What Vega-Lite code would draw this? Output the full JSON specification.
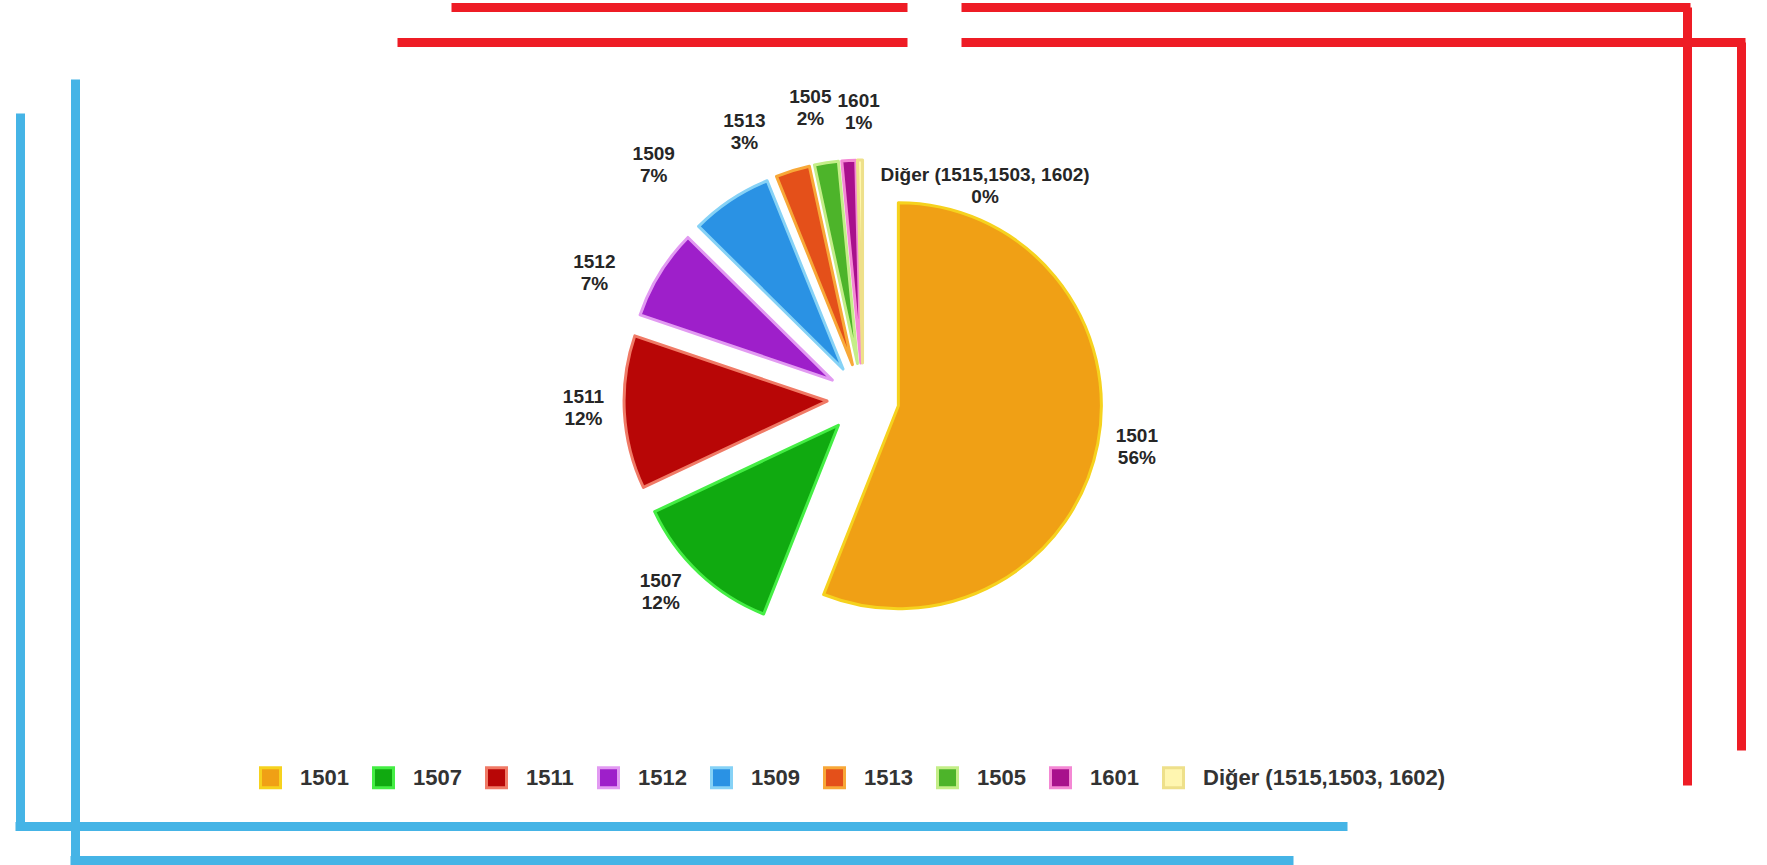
{
  "$schema": "https://vega.github.io/schema/vega-lite/v6.json",
  "width": 1726,
  "height": 798,
  "autosize": {"type": "none"},
  "padding": {"left": 0, "top": 0, "right": 41, "bottom": 67},
  "background": "white",
  "config": {"view": {"stroke": null}, "font": "Liberation Sans"},
  "data": {
    "values": [
      {"kod": "1501", "pay": 0.560, "sira": 1},
      {"kod": "1507", "pay": 0.120, "sira": 2},
      {"kod": "1511", "pay": 0.122, "sira": 3},
      {"kod": "1512", "pay": 0.072, "sira": 4},
      {"kod": "1509", "pay": 0.065, "sira": 5},
      {"kod": "1513", "pay": 0.027, "sira": 6},
      {"kod": "1505", "pay": 0.019, "sira": 7},
      {"kod": "1601", "pay": 0.011, "sira": 8},
      {"kod": "Diğer (1515,1503, 1602)", "pay": 0.004, "sira": 9}
    ]
  },
  "layer": [
    {
      "mark": {"type": "point", "opacity": 0},
      "encoding": {
        "x": {"field": "pay", "type": "quantitative", "scale": {"range": [451, 907], "nice": false},
          "axis": {"orient": "top", "offset": -7, "domainColor": "#EE1C25", "domainWidth": 9, "ticks": false, "labels": false, "grid": false, "title": null}}
      }
    },
    {
      "mark": {"type": "point", "opacity": 0},
      "encoding": {
        "x": {"field": "pay", "type": "quantitative", "scale": {"range": [961, 1690], "nice": false},
          "axis": {"orient": "top", "offset": -7, "domainColor": "#EE1C25", "domainWidth": 9, "ticks": false, "labels": false, "grid": false, "title": null}},
        "y": {"field": "pay", "type": "quantitative", "scale": {"range": [785, 7], "nice": false},
          "axis": {"orient": "right", "offset": -39, "domainColor": "#EE1C25", "domainWidth": 9, "ticks": false, "labels": false, "grid": false, "title": null}}
      }
    },
    {
      "mark": {"type": "point", "opacity": 0},
      "encoding": {
        "x": {"field": "pay", "type": "quantitative", "scale": {"range": [397, 907], "nice": false},
          "axis": {"orient": "top", "offset": -42, "domainColor": "#EE1C25", "domainWidth": 9, "ticks": false, "labels": false, "grid": false, "title": null}}
      }
    },
    {
      "mark": {"type": "point", "opacity": 0},
      "encoding": {
        "x": {"field": "pay", "type": "quantitative", "scale": {"range": [961, 1745], "nice": false},
          "axis": {"orient": "top", "offset": -42, "domainColor": "#EE1C25", "domainWidth": 9, "ticks": false, "labels": false, "grid": false, "title": null}},
        "y": {"field": "pay", "type": "quantitative", "scale": {"range": [750, 42], "nice": false},
          "axis": {"orient": "right", "offset": 15, "domainColor": "#EE1C25", "domainWidth": 9, "ticks": false, "labels": false, "grid": false, "title": null}}
      }
    },
    {
      "mark": {"type": "point", "opacity": 0},
      "encoding": {
        "x": {"field": "pay", "type": "quantitative", "scale": {"range": [15, 1347], "nice": false},
          "axis": {"orient": "bottom", "offset": 28, "domainColor": "#45B4E6", "domainWidth": 9, "ticks": false, "labels": false, "grid": false, "title": null}},
        "y": {"field": "pay", "type": "quantitative", "scale": {"range": [826, 113], "nice": false},
          "axis": {"orient": "left", "offset": -20, "domainColor": "#45B4E6", "domainWidth": 9, "ticks": false, "labels": false, "grid": false, "title": null}}
      }
    },
    {
      "mark": {"type": "point", "opacity": 0},
      "encoding": {
        "x": {"field": "pay", "type": "quantitative", "scale": {"range": [70, 1293], "nice": false},
          "axis": {"orient": "bottom", "offset": 62, "domainColor": "#45B4E6", "domainWidth": 9, "ticks": false, "labels": false, "grid": false, "title": null}},
        "y": {"field": "pay", "type": "quantitative", "scale": {"range": [863, 79], "nice": false},
          "axis": {"orient": "left", "offset": -75, "domainColor": "#45B4E6", "domainWidth": 9, "ticks": false, "labels": false, "grid": false, "title": null}}
      }
    },
    {
      "mark": {
        "type": "arc",
        "outerRadius": 203,
        "strokeWidth": 3,
        "strokeJoin": "round",
        "xOffset": {"expr": "36*sin(PI*(datum.pay_start+datum.pay_end))"},
        "yOffset": {"expr": "-36*cos(PI*(datum.pay_start+datum.pay_end))"}
      },
      "encoding": {
        "theta": {"field": "pay", "type": "quantitative", "stack": "normalize"},
        "order": {"field": "sira", "type": "quantitative"},
        "fill": {
          "field": "kod", "type": "nominal",
          "scale": {
            "domain": ["1501", "1507", "1511", "1512", "1509", "1513", "1505", "1601", "Diğer (1515,1503, 1602)"],
            "range": ["#F0A015", "#10AA10", "#B80606", "#9E1FCA", "#2A92E4", "#E4501A", "#4DB42A", "#A8108C", "#FFF6B0"]
          },
          "legend": {
            "orient": "none", "legendX": 259, "legendY": 766, "direction": "horizontal", "columns": 9,
            "title": null, "symbolType": "square", "symbolSize": 400, "symbolStrokeWidth": 3,
            "labelFontSize": 22, "labelFont": "Liberation Sans", "labelFontWeight": "bold", "labelColor": "#333333",
            "labelLimit": 400, "labelOffset": 18, "columnPadding": 18, "padding": 0,
            "encode": {"symbols": {"update": {"stroke": {"scale": "stroke", "field": "value"}, "strokeWidth": {"value": 3}}}}
          }
        },
        "stroke": {
          "field": "kod", "type": "nominal",
          "scale": {
            "domain": ["1501", "1507", "1511", "1512", "1509", "1513", "1505", "1601", "Diğer (1515,1503, 1602)"],
            "range": ["#F6D21E", "#44EE44", "#F07A66", "#E29AF2", "#86D2F6", "#F8A838", "#C4EE88", "#F488D4", "#EEE08A"]
          },
          "legend": null
        }
      }
    },
    {
      "mark": {
        "type": "text", "fontSize": 19, "fontWeight": "bold", "font": "Liberation Sans", "color": "#262626",
        "radius": {"expr": "datum.sira == 9 ? 195 : 255"},
        "dx": {"expr": "[-12, -3, 11, -21, -48, -33, -8, 13, 125][datum.sira - 1]"},
        "dy": {"expr": "[-7, -19, -7, 27, 8, 11, -3, 3, 18][datum.sira - 1] - 11"},
        "xOffset": {"expr": "36*sin(PI*(datum.pay_start+datum.pay_end))"},
        "yOffset": {"expr": "-36*cos(PI*(datum.pay_start+datum.pay_end))"}
      },
      "encoding": {
        "theta": {"field": "pay", "type": "quantitative", "stack": "normalize"},
        "order": {"field": "sira", "type": "quantitative"},
        "text": {"field": "kod", "type": "nominal"}
      }
    },
    {
      "mark": {
        "type": "text", "fontSize": 19, "fontWeight": "bold", "font": "Liberation Sans", "color": "#262626",
        "radius": {"expr": "datum.sira == 9 ? 195 : 255"},
        "dx": {"expr": "[-12, -3, 11, -21, -48, -33, -8, 13, 125][datum.sira - 1]"},
        "dy": {"expr": "[-7, -19, -7, 27, 8, 11, -3, 3, 18][datum.sira - 1] + 11"},
        "xOffset": {"expr": "36*sin(PI*(datum.pay_start+datum.pay_end))"},
        "yOffset": {"expr": "-36*cos(PI*(datum.pay_start+datum.pay_end))"}
      },
      "encoding": {
        "theta": {"field": "pay", "type": "quantitative", "stack": "normalize"},
        "order": {"field": "sira", "type": "quantitative"},
        "text": {"field": "pay", "type": "quantitative", "format": ".0%"}
      }
    }
  ],
  "resolve": {
    "scale": {"x": "independent", "y": "independent"},
    "axis": {"x": "independent", "y": "independent"}
  }
}
